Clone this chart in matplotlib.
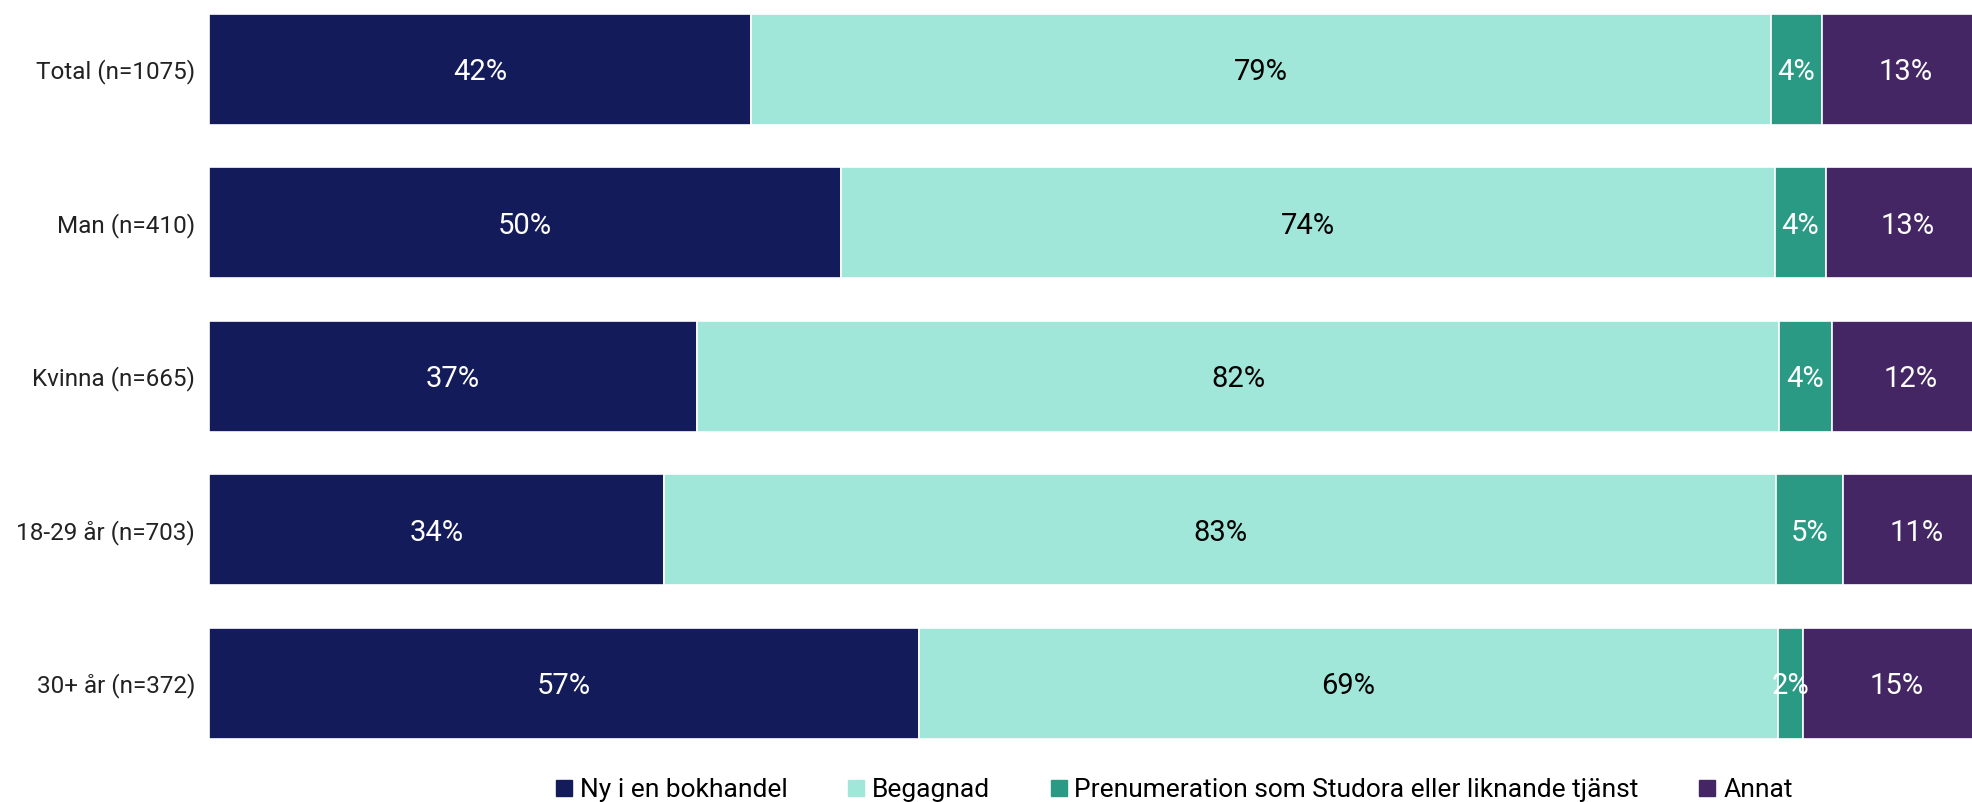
import matplotlib
matplotlib.use("Agg")
import matplotlib.pyplot as plt
import numpy as np
from matplotlib.lines import Line2D

plt.rcParams['font.family'] = ['Roboto', 'DejaVu Sans']

categories = ["Total (n=1075)", "Man (n=410)", "Kvinna (n=665)", "18-29 år (n=703)", "30+ år (n=372)"]
series_names = ["Ny i en bokhandel", "Begagnad", "Prenumeration som Studora eller liknande tjänst", "Annat"]
ny = [42, 50, 37, 34, 57]
begagnad = [79, 74, 82, 83, 69]
prenumeration = [4, 4, 4, 5, 2]
annat = [13, 13, 12, 11, 15]

colors = ["#131B5A", "#A0E6D9", "#2A9A84", "#452665"]
text_colors = ["white", "black", "white", "white"]

W, H = 1972, 802
fig = plt.figure(figsize=(W / 100, H / 100), dpi=100)
ax = fig.add_axes([209 / W, 42 / H, 1781 / W, 767.5 / H])

data = np.array([ny, begagnad, prenumeration, annat], dtype=float)
totals = data.sum(axis=0)
norm = data / totals

y = np.arange(len(categories))
left = np.zeros(len(categories))
for i, name in enumerate(series_names):
    ax.barh(y, norm[i], left=left, height=0.725, color=colors[i],
            edgecolor="white", linewidth=1.2, label=name)
    for j in range(len(categories)):
        ax.text(left[j] + norm[i][j] / 2, y[j] + 0.02, f"{int(data[i][j])}%",
                ha="center", va="center", color=text_colors[i], fontsize=21)
    left += norm[i]

ax.set_xlim(0, 1)
ax.set_ylim(len(categories) - 0.5, -0.5)
ax.set_yticks(y)
ax.set_yticklabels(categories, fontsize=17.5, color="#222222")
ax.tick_params(axis="y", length=0, pad=10)
ax.set_xticks([])
for s in ax.spines.values():
    s.set_visible(False)

handles = [Line2D([0], [0], marker="s", linestyle="none", markersize=12,
                  markerfacecolor=c, markeredgecolor=c) for c in colors]
fig.legend(handles, series_names, loc="center", bbox_to_anchor=(1173 / W, 12 / H),
           ncol=4, frameon=False, fontsize=19, handletextpad=0.2, columnspacing=2.2,
           handlelength=0.8)

fig.savefig("out.png", dpi=100)
